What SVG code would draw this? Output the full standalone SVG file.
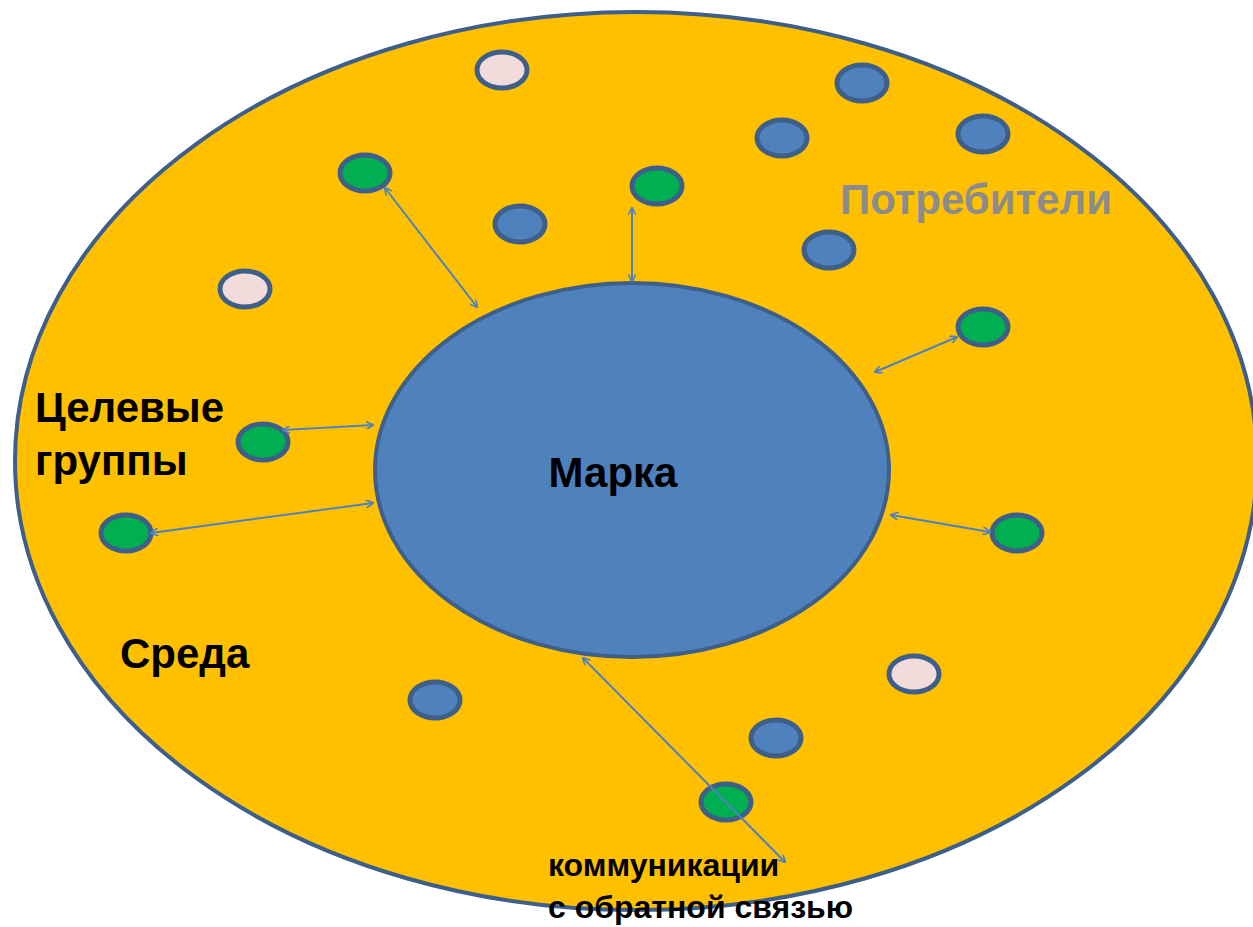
<svg xmlns="http://www.w3.org/2000/svg" width="1253" height="927" viewBox="0 0 1253 927">
<defs>
<marker id="ah" viewBox="0 0 10 10" refX="9" refY="5" markerWidth="8" markerHeight="8" markerUnits="userSpaceOnUse" orient="auto-start-reverse">
<path d="M0,0 L10,5 L0,10" fill="none" stroke="#4f81bd" stroke-width="2"/>
</marker>
<style>
.dot{stroke:#3e5f8a;stroke-width:5}
.g{fill:#00b050}.b{fill:#4f81bd}.p{fill:#f2dcdb}
.c line{stroke:#4f81bd;stroke-width:2;marker-start:url(#ah);marker-end:url(#ah)}
.t{font-family:"Liberation Sans",Arial,sans-serif;font-weight:bold;fill:#000}
</style>
</defs>
<rect width="1253" height="927" fill="#fff"/>
<g id="sreda"><ellipse cx="636" cy="461" rx="621" ry="449" fill="#ffc000" stroke="#3e5f8a" stroke-width="4"/></g>
<g id="marka"><ellipse cx="632" cy="470" rx="257" ry="187" fill="#4f81bd" stroke="#3e5f8a" stroke-width="4"/>
<text class="t" x="613" y="487" font-size="42" text-anchor="middle">Марка</text></g>
<g id="n1"><ellipse class="dot p" cx="502" cy="70" rx="25" ry="18"/></g>
<g id="n2"><ellipse class="dot b" cx="862" cy="83" rx="25" ry="18"/></g>
<g id="n3"><ellipse class="dot b" cx="782" cy="138" rx="25" ry="18"/></g>
<g id="n4"><ellipse class="dot b" cx="983" cy="134" rx="25" ry="18"/></g>
<g id="n5"><ellipse class="dot g" cx="365" cy="173" rx="25" ry="18"/></g>
<g id="n6"><ellipse class="dot g" cx="657" cy="186" rx="25" ry="18"/></g>
<g id="n7"><ellipse class="dot b" cx="520" cy="224" rx="25" ry="18"/></g>
<g id="n8"><ellipse class="dot b" cx="829" cy="250" rx="25" ry="18"/></g>
<g id="n9"><ellipse class="dot p" cx="245" cy="289" rx="25" ry="18"/></g>
<g id="n10"><ellipse class="dot g" cx="983" cy="327" rx="25" ry="18"/></g>
<g id="n11"><ellipse class="dot g" cx="263" cy="442" rx="25" ry="18"/></g>
<g id="n12"><ellipse class="dot g" cx="126" cy="533" rx="25" ry="18"/></g>
<g id="n13"><ellipse class="dot g" cx="1017" cy="533" rx="25" ry="18"/></g>
<g id="n14"><ellipse class="dot p" cx="914" cy="674" rx="25" ry="18"/></g>
<g id="n15"><ellipse class="dot b" cx="435" cy="700" rx="25" ry="18"/></g>
<g id="n16"><ellipse class="dot b" cx="776" cy="738" rx="25" ry="18"/></g>
<g id="n17"><ellipse class="dot g" cx="726" cy="802" rx="25" ry="18"/></g>
<g id="connectors" class="c">
<line x1="385" y1="188" x2="477" y2="307"/>
<line x1="632" y1="208" x2="632" y2="281"/>
<line x1="875" y1="372" x2="957" y2="337"/>
<line x1="283" y1="430" x2="373" y2="425"/>
<line x1="151" y1="533" x2="373" y2="503"/>
<line x1="891" y1="515" x2="990" y2="532"/>
<line x1="583" y1="658" x2="785" y2="862"/>
</g>
<g id="labels">
<text class="t" x="840" y="214" font-size="42" style="fill:#8c8c8c">Потребители</text>
<text class="t" x="35" y="422" font-size="42">Целевые</text>
<text class="t" x="35" y="475" font-size="42">группы</text>
<text class="t" x="120" y="668" font-size="42">Среда</text>
<text class="t" x="548" y="876" font-size="32">коммуникации</text>
<text class="t" x="548" y="918" font-size="32">с обратной связью</text>
</g>
</svg>
